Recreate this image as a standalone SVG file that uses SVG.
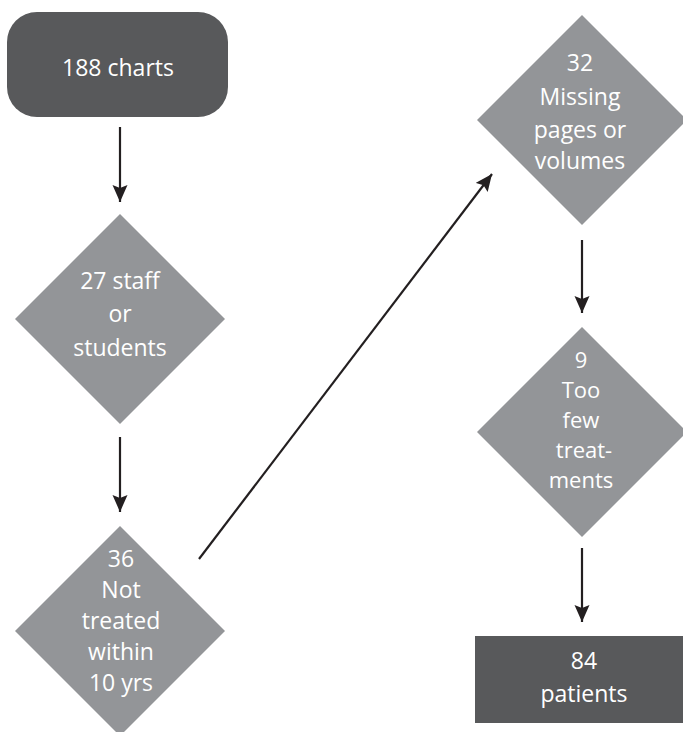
<svg xmlns="http://www.w3.org/2000/svg" width="683" height="732" viewBox="0 0 683 732">
<defs>
<style>
.dark{fill:#58595b}
.dia{fill:#939598}
.lbl{fill:#ffffff;font-family:"Open Sans","Liberation Sans",sans-serif;font-size:23px;text-anchor:middle}
.sm{font-size:22px}
.conn{stroke:#231f20;stroke-width:2.2;fill:none}
</style>
<marker id="ah" markerUnits="userSpaceOnUse" markerWidth="18" markerHeight="16" refX="17" refY="7.5" orient="auto">
<path d="M0,0 L17,7.5 L0,15 L3,7.5 z" fill="#231f20"/>
</marker>
</defs>
<rect width="683" height="732" fill="#ffffff"/>
<g id="n1">
<rect class="dark" x="7" y="12" width="221" height="105" rx="30" ry="30"/>
<text class="lbl" x="118" y="76">188 charts</text>
</g>
<g id="n2">
<polygon class="dia" points="120,214 225,319 120,424 15,319"/>
<text class="lbl" x="120" y="289">27 staff</text>
<text class="lbl" x="120" y="322">or</text>
<text class="lbl" x="120" y="356">students</text>
</g>
<g id="n3">
<polygon class="dia" points="120,526 225,631 120,736 15,631"/>
<text class="lbl" x="121" y="567">36</text>
<text class="lbl" x="121" y="598">Not</text>
<text class="lbl" x="121" y="629">treated</text>
<text class="lbl" x="121" y="660">within</text>
<text class="lbl" x="121" y="691">10 yrs</text>
</g>
<g id="n4">
<polygon class="dia" points="582,15 687,120 582,225 477,120"/>
<text class="lbl" x="580" y="71">32</text>
<text class="lbl" x="580" y="105">Missing</text>
<text class="lbl" x="580" y="138">pages or</text>
<text class="lbl" x="580" y="169">volumes</text>
</g>
<g id="n5">
<polygon class="dia" points="582,327 687,432 582,537 477,432"/>
<text class="lbl sm" x="581" y="368">9</text>
<text class="lbl sm" x="581" y="398">Too</text>
<text class="lbl sm" x="581" y="428">few</text>
<text class="lbl sm" x="584" y="458">treat-</text>
<text class="lbl sm" x="581" y="488">ments</text>
</g>
<g id="n6">
<rect class="dark" x="475" y="636" width="218" height="87"/>
<text class="lbl" x="584" y="669">84</text>
<text class="lbl" x="584" y="702">patients</text>
</g>
<g id="connectors">
<line class="conn" x1="120" y1="127" x2="120" y2="202" marker-end="url(#ah)"/>
<line class="conn" x1="120" y1="437" x2="120" y2="512" marker-end="url(#ah)"/>
<line class="conn" x1="199" y1="559" x2="492" y2="174" marker-end="url(#ah)"/>
<line class="conn" x1="582" y1="240" x2="582" y2="313" marker-end="url(#ah)"/>
<line class="conn" x1="582" y1="548" x2="582" y2="622" marker-end="url(#ah)"/>
</g>
</svg>
